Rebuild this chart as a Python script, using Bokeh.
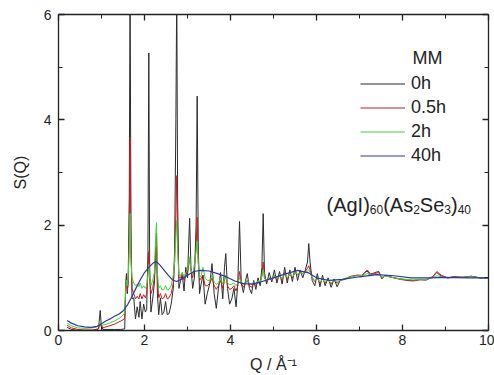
from bokeh.plotting import figure
from bokeh.models import (Range1d, FixedTicker, LinearAxis, Label, Legend, LegendItem)
from bokeh.embed import file_html
from bokeh.resources import INLINE

# ---------------- data ----------------
# common Q grid for the three milled samples with sharp Bragg peaks
q_sharp = [0.20, 0.30, 0.45, 0.60, 0.80, 0.93, 0.97, 0.99, 1.03, 1.15, 1.30, 1.45, 1.53,
           1.54, 1.56, 1.58, 1.60, 1.62, 1.645, 1.665, 1.685, 1.71, 1.75, 1.79, 1.83, 1.87, 1.90, 1.94, 1.98, 2.02,
           2.05, 2.08, 2.10, 2.12, 2.15, 2.19, 2.23, 2.26, 2.28, 2.30, 2.33, 2.37, 2.41, 2.45, 2.49, 2.53, 2.57, 2.62, 2.67,
           2.70, 2.73, 2.75, 2.77, 2.80, 2.84, 2.88, 2.92, 2.96, 3.00, 3.03, 3.05, 3.08, 3.12, 3.16, 3.20, 3.225, 3.25, 3.28, 3.32,
           3.36, 3.41, 3.46, 3.52, 3.57, 3.62, 3.67, 3.72, 3.77, 3.82, 3.86, 3.89, 3.93, 3.98, 4.03, 4.08, 4.13, 4.17, 4.21, 4.25,
           4.30, 4.35, 4.39, 4.44, 4.49,
           4.54, 4.59, 4.64, 4.69, 4.73, 4.76, 4.79, 4.84, 4.90, 4.96, 5.02, 5.08, 5.14, 5.20, 5.26, 5.32, 5.38, 5.44, 5.50,
           5.56, 5.62, 5.68, 5.74, 5.79, 5.82, 5.85, 5.90, 5.96, 6.02, 6.08, 6.14, 6.20, 6.27, 6.34, 6.41, 6.48, 6.55,
           6.65, 6.80, 6.95, 7.05, 7.12, 7.18, 7.25, 7.35, 7.45, 7.52, 7.60, 7.70, 7.80, 7.95, 8.10, 8.25, 8.40, 8.55, 8.70,
           8.80, 8.90, 9.05, 9.20, 9.40, 9.60, 9.80, 10.0]

s_0h = [0.06, 0.02, 0.00, 0.00, 0.00, 0.03, 0.38, 0.15, 0.02, 0.02, 0.02, 0.02, 0.03,
        0.03, 0.85, 1.08, 0.70, 0.95, 2.50, 6.50, 2.00, 0.60, 0.62, 0.22, 0.45, 0.25, 0.55, 0.22, 0.50, 0.35,
        0.40, 1.50, 5.27, 1.20, 0.35, 0.60, 0.90, 1.50, 1.60, 0.70, 0.30, 0.62, 0.30, 0.35, 0.55, 0.30, 0.32, 0.50, 0.80,
        1.50, 4.00, 6.50, 2.50, 0.80, 0.95, 1.05, 0.75, 1.20, 1.00, 1.70, 2.13, 1.20, 0.80, 1.00, 2.00, 4.45, 1.60, 0.70, 0.90,
        1.05, 0.50, 0.70, 0.90, 1.27, 0.70, 0.42, 0.80, 1.10, 0.60, 1.20, 1.46, 0.80, 0.50, 0.60, 0.80, 0.45, 0.90, 2.07, 0.90,
        0.72, 0.95, 1.08, 0.80, 0.70,
        0.95, 0.78, 1.00, 0.85, 1.20, 2.22, 1.10, 0.88, 1.10, 0.92, 1.15, 0.90, 1.12, 0.88, 1.20, 0.90, 1.15, 0.93, 1.20,
        0.95, 1.15, 1.00, 1.15, 1.30, 1.65, 1.30, 0.95, 0.85, 1.08, 0.83, 1.05, 0.85, 1.00, 0.82, 0.98, 0.83, 0.95,
        0.97, 1.02, 1.05, 1.02, 1.10, 1.13, 1.05, 1.10, 1.12, 0.98, 1.05, 1.02, 1.00, 0.98, 0.96, 0.95, 0.97, 0.96, 1.02,
        1.10, 1.03, 1.00, 1.02, 1.01, 1.03, 1.00, 1.00]

s_05h = [0.10, 0.05, 0.02, 0.01, 0.01, 0.03, 0.15, 0.07, 0.05, 0.08, 0.12, 0.18, 0.22,
         0.25, 0.70, 0.95, 0.75, 0.90, 1.80, 3.67, 1.50, 0.80, 0.70, 0.60, 0.65, 0.60, 0.70, 0.60, 0.68, 0.62,
         0.70, 1.10, 1.50, 1.00, 0.70, 0.80, 1.00, 1.60, 1.85, 1.00, 0.62, 0.70, 0.60, 0.62, 0.70, 0.60, 0.62, 0.70, 0.90,
         1.30, 2.20, 2.94, 1.80, 1.00, 1.00, 1.10, 0.95, 1.05, 1.10, 1.25, 1.35, 1.15, 1.00, 1.20, 1.60, 2.15, 1.30, 0.95, 1.00,
         1.05, 0.85, 0.85, 0.90, 1.00, 0.85, 0.78, 0.85, 0.95, 0.80, 0.95, 1.05, 0.85, 0.78, 0.80, 0.85, 0.75, 0.85, 1.12, 0.90,
         0.82, 0.90, 0.95, 0.85, 0.82,
         0.90, 0.85, 0.95, 0.90, 1.05, 1.30, 1.00, 0.92, 1.00, 0.95, 1.05, 0.95, 1.05, 0.95, 1.10, 0.97, 1.08, 1.00, 1.10,
         1.05, 1.10, 1.08, 1.12, 1.18, 1.23, 1.15, 1.00, 0.93, 1.00, 0.90, 0.98, 0.90, 0.97, 0.88, 0.95, 0.90, 0.95,
         0.98, 1.03, 1.05, 1.05, 1.10, 1.15, 1.08, 1.08, 1.10, 1.00, 1.04, 1.02, 1.00, 0.97, 0.95, 0.94, 0.96, 0.96, 1.02,
         1.12, 1.05, 1.00, 1.02, 1.01, 1.03, 1.00, 1.00]

s_2h = [0.14, 0.09, 0.05, 0.04, 0.05, 0.08, 0.18, 0.12, 0.10, 0.13, 0.18, 0.25, 0.32,
        0.35, 0.75, 0.95, 0.85, 1.00, 1.50, 2.22, 1.30, 1.00, 0.90, 0.85, 0.88, 0.83, 0.90, 0.80, 0.85, 0.80,
        0.85, 1.05, 1.25, 1.00, 0.85, 0.95, 1.10, 1.80, 2.05, 1.10, 0.80, 0.85, 0.77, 0.78, 0.85, 0.77, 0.78, 0.85, 1.05,
        1.30, 1.80, 2.09, 1.50, 1.05, 1.05, 1.10, 1.00, 1.10, 1.15, 1.30, 1.40, 1.15, 1.05, 1.25, 1.50, 1.70, 1.30, 1.00, 1.05,
        1.20, 1.00, 0.95, 0.95, 1.05, 0.92, 0.88, 0.90, 1.00, 0.88, 0.98, 1.05, 0.90, 0.87, 0.88, 0.90, 0.85, 0.90, 1.00, 0.92,
        0.88, 0.92, 0.95, 0.90, 0.88,
        0.92, 0.88, 0.95, 0.92, 1.02, 1.15, 1.00, 0.95, 1.00, 0.97, 1.05, 0.98, 1.05, 0.98, 1.08, 1.00, 1.08, 1.02, 1.10,
        1.07, 1.10, 1.08, 1.10, 1.13, 1.15, 1.10, 1.00, 0.95, 0.98, 0.92, 0.97, 0.92, 0.96, 0.90, 0.95, 0.92, 0.95,
        0.98, 1.02, 1.04, 1.04, 1.06, 1.08, 1.05, 1.06, 1.07, 1.01, 1.03, 1.02, 1.00, 0.98, 0.97, 0.96, 0.97, 0.97, 1.00,
        1.04, 1.02, 1.00, 1.01, 1.01, 1.02, 1.00, 1.00]

# 40 h milled sample: smooth amorphous curve
q_40h = [0.2, 0.3, 0.45, 0.6, 0.75, 0.9, 1.0, 1.1, 1.2, 1.3, 1.4, 1.5, 1.6, 1.7, 1.8, 1.9, 2.0, 2.1, 2.2, 2.27,
         2.35, 2.45, 2.55, 2.65, 2.75, 2.85, 3.0, 3.15, 3.3, 3.5, 3.7, 3.9, 4.1, 4.3, 4.5, 4.7, 5.0, 5.3, 5.55,
         5.8, 6.0, 6.3, 6.6, 7.0, 7.4, 7.8, 8.2, 8.6, 9.0, 9.5, 10.0]
s_40h = [0.19, 0.14, 0.09, 0.07, 0.06, 0.08, 0.13, 0.18, 0.22, 0.27, 0.31, 0.37, 0.48, 0.63, 0.80, 0.96, 1.10, 1.20, 1.28, 1.31,
         1.25, 1.15, 1.05, 0.96, 0.93, 0.97, 1.05, 1.12, 1.14, 1.13, 1.08, 1.02, 0.94, 0.89, 0.88, 0.92, 1.00, 1.08, 1.14,
         1.10, 1.00, 0.95, 0.97, 1.02, 1.06, 1.04, 1.00, 1.00, 1.01, 1.00, 1.00]

series_labels = ["0h", "0.5h", "2h", "40h"]
series_colors = ["#2b2b2b", "#c81e1e", "#3fd23f", "#2e35a8"]

x_ticks = [0, 2, 4, 6, 8, 10]
x_minor = [1, 3, 5, 7, 9]
y_ticks = [0, 2, 4, 6]
y_minor = [1, 3, 5]

FONT = "Liberation Sans"

# ---------------- figure ----------------
p = figure(width=494, height=375, output_backend="svg", toolbar_location=None,
           x_range=Range1d(0, 10), y_range=Range1d(0, 6),
           min_border_left=58, min_border_right=6, min_border_top=14, min_border_bottom=45,
           x_axis_label="Q / Å⁻¹", y_axis_label="S(Q)")
p.grid.visible = False
p.outline_line_color = None
p.background_fill_color = "white"
p.border_fill_color = "white"

# helpers to place text in data space from pixel positions of the frame
FL, FR, FT, FB = 58, 488, 14, 330
DY = 8  # empirical baseline correction of the svg text
def qx(px):
    return (px - FL) / (FR - FL) * 10.0
def sy(py):
    return (FB - (py - DY)) / (FB - FT) * 6.0

def style_axis(ax, ticks, minor, show_labels):
    ax.ticker = FixedTicker(ticks=ticks, minor_ticks=minor)
    ax.axis_line_color = "#222222"
    ax.axis_line_width = 1.3
    ax.major_tick_line_color = "#222222"
    ax.minor_tick_line_color = "#222222"
    ax.major_tick_line_width = 1.3
    ax.minor_tick_line_width = 1.0
    ax.major_tick_in = 6
    ax.major_tick_out = 0
    ax.minor_tick_in = 4
    ax.minor_tick_out = 0
    ax.major_label_text_font = FONT
    ax.major_label_text_font_size = "14px"
    ax.major_label_text_color = "#222222"
    ax.axis_label_text_font = FONT
    ax.axis_label_text_font_size = "16px"
    ax.axis_label_text_font_style = "normal"
    ax.axis_label_text_color = "#222222"
    if not show_labels:
        ax.major_label_text_color = None
        ax.major_label_standoff = 0

style_axis(p.xaxis[0], x_ticks, x_minor, True)
style_axis(p.yaxis[0], y_ticks, y_minor, True)
p.xaxis[0].major_label_standoff = 4
p.xaxis[0].axis_label_standoff = 8
p.yaxis[0].major_label_standoff = 7
p.yaxis[0].axis_label_standoff = 12

top_ax = LinearAxis()
right_ax = LinearAxis()
style_axis(top_ax, x_ticks, x_minor, False)
style_axis(right_ax, y_ticks, y_minor, False)
p.add_layout(top_ax, "above")
p.add_layout(right_ax, "right")

# ---------------- curves ----------------
r0 = p.line(q_sharp, s_0h, line_color=series_colors[0], line_width=1)
r1 = p.line(q_sharp, s_05h, line_color=series_colors[1], line_width=1)
r2 = p.line(q_sharp, s_2h, line_color=series_colors[2], line_width=1)
r3 = p.line(q_40h, s_40h, line_color=series_colors[3], line_width=1.2)

legend = Legend(items=[LegendItem(label=lab, renderers=[r]) for lab, r in zip(series_labels, [r0, r1, r2, r3])],
                location=(302, 163), orientation="vertical",
                label_text_font=FONT, label_text_font_size="18px", label_text_color="#222222",
                glyph_width=45, glyph_height=23, label_height=23, label_standoff=6,
                spacing=1, padding=0, margin=0,
                border_line_color=None, background_fill_alpha=0)
p.add_layout(legend, "center")

p.add_layout(Label(x=qx(412), y=sy(65), text="MM", text_font=FONT, text_font_size="18px",
                   text_color="#222222", text_baseline="alphabetic"))

# composition annotation with subscripts
W = {"(": 0.333, ")": 0.333, "A": 0.667, "g": 0.556, "I": 0.278, "s": 0.5, "S": 0.667, "e": 0.556}
pieces = [("(AgI)", False), ("60", True), ("(As", False), ("2", True), ("Se", False), ("3", True),
          (")", False), ("40", True)]
MAIN, SUB = 20, 12
xpos = 326.0
for txt, sub in pieces:
    fs = SUB if sub else MAIN
    p.add_layout(Label(x=qx(xpos), y=sy(217 if sub else 212), text=txt, text_font=FONT,
                       text_font_size=f"{fs}px", text_color="#222222", text_baseline="alphabetic"))
    xpos += sum(W.get(c, 0.556) for c in txt) * fs

open("out.html", "w").write(file_html(p, INLINE))
